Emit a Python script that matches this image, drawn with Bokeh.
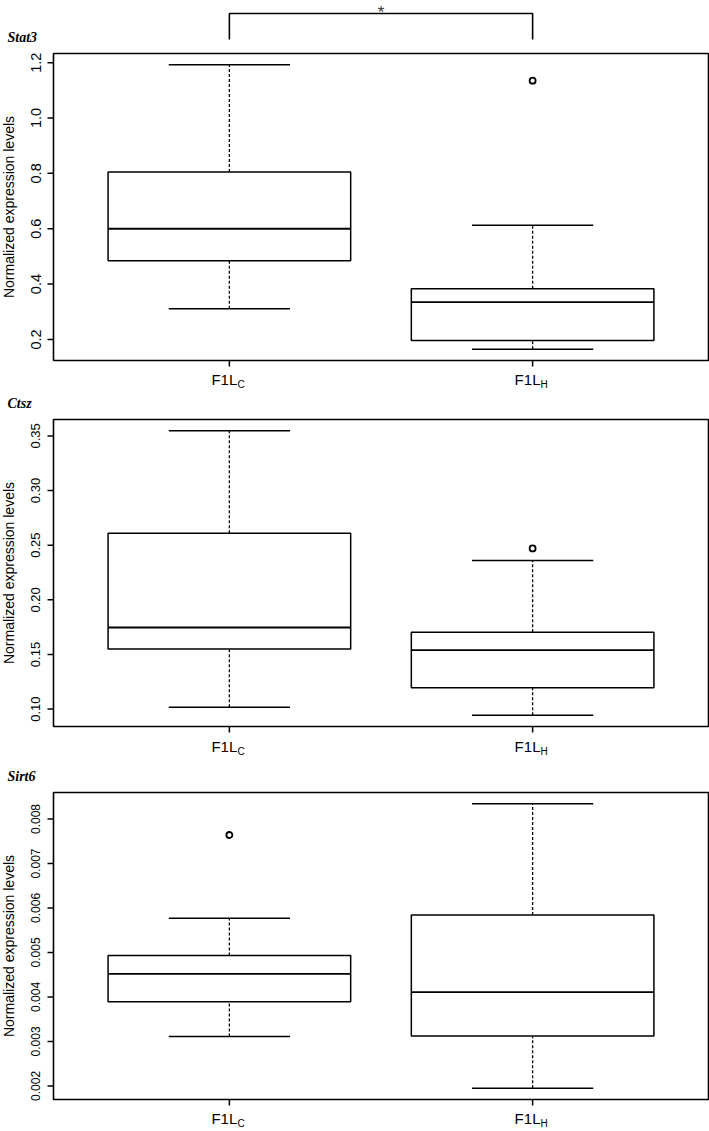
import math
from bokeh.plotting import figure
from bokeh.models import ColumnDataSource, Range1d
from bokeh.layouts import column
from bokeh.embed import file_html
from bokeh.resources import INLINE
from bokeh.core.properties import value

# ---------------- data ----------------
genes = ["Stat3", "Ctsz", "Sirt6"]
group_main = ["F1L", "F1L"]
group_sub = ["C", "H"]
group_pos = [1, 2]

stat3_lower = [0.311, 0.165]
stat3_q1 = [0.484, 0.196]
stat3_median = [0.600, 0.335]
stat3_q3 = [0.805, 0.383]
stat3_upper = [1.192, 0.613]
stat3_out_group = [2]
stat3_out_value = [1.135]
stat3_ticks = [0.2, 0.4, 0.6, 0.8, 1.0, 1.2]
stat3_tick_labels = ["0.2", "0.4", "0.6", "0.8", "1.0", "1.2"]

ctsz_lower = [0.1017, 0.0945]
ctsz_q1 = [0.155, 0.1195]
ctsz_median = [0.1747, 0.154]
ctsz_q3 = [0.261, 0.1704]
ctsz_upper = [0.3546, 0.236]
ctsz_out_group = [2]
ctsz_out_value = [0.247]
ctsz_ticks = [0.10, 0.15, 0.20, 0.25, 0.30, 0.35]
ctsz_tick_labels = ["0.10", "0.15", "0.20", "0.25", "0.30", "0.35"]

sirt6_lower = [0.00311, 0.00195]
sirt6_q1 = [0.00389, 0.00312]
sirt6_median = [0.00452, 0.00411]
sirt6_q3 = [0.00493, 0.00584]
sirt6_upper = [0.00577, 0.00834]
sirt6_out_group = [1]
sirt6_out_value = [0.00764]
sirt6_ticks = [0.002, 0.003, 0.004, 0.005, 0.006, 0.007, 0.008]
sirt6_tick_labels = ["0.002", "0.003", "0.004", "0.005", "0.006", "0.007", "0.008"]

signif_pair = [1, 2]
signif_text = "*"

ylabel = "Normalized expression levels"

# ---------------- styling / layout ----------------
FIG_W = 709
BOX_L, BOX_R = 53, 1          # px left / right of the plotting box
BOX_H = 307
BOX_W, CAP_W = 0.8, 0.4
SANS = "Liberation Sans"
SERIF = "Liberation Serif"
TF = 5                        # baseline correction (px)


def make_panel(gene, lower, q1, med, q3, upper, out_g, out_v, ticks, tick_labels,
               tick_font, top, bottom, xlab_dy, bracket=False):
    n = len(group_pos)
    x0, x1 = 0.5 - 0.04 * n, n + 0.5 + 0.04 * n
    lo = min(lower + out_v)
    hi = max(upper + out_v)
    pad = (hi - lo) * 0.04
    y0, y1 = lo - pad, hi + pad

    box_w_px = FIG_W - BOX_L - BOX_R
    dx = (x1 - x0) / box_w_px           # data units per px (x)
    dy = (y1 - y0) / BOX_H              # data units per px (y)
    H = top + BOX_H + bottom

    p = figure(width=FIG_W, height=H,
               x_range=Range1d(x0 - BOX_L * dx, x1 + BOX_R * dx),
               y_range=Range1d(y0 - bottom * dy, y1 + top * dy),
               output_backend="svg", toolbar_location=None,
               x_axis_location=None, y_axis_location=None,
               min_border=0, background_fill_color="white",
               border_fill_color="white")
    p.outline_line_color = None
    p.xgrid.visible = False
    p.ygrid.visible = False

    # plotting box
    p.quad(left=[x0], right=[x1], bottom=[y0], top=[y1], fill_color=None,
           line_color="black", line_width=1.6)

    # y ticks + labels
    p.segment(x0=[x0 - 6 * dx] * len(ticks), y0=ticks, x1=[x0] * len(ticks), y1=ticks,
              line_color="black", line_width=1.5)
    p.text(x=[x0 - (13 + TF) * dx] * len(ticks), y=ticks, text=tick_labels,
           angle=math.pi / 2, text_align="center", text_baseline="alphabetic",
           text_font=value(SANS), text_font_size=tick_font, text_color="black")

    # x ticks + labels with subscripts
    p.segment(x0=group_pos, y0=[y0] * n, x1=group_pos, y1=[y0 - 6 * dy] * n,
              line_color="black", line_width=1.5)
    p.text(x=[g - 18 * dx for g in group_pos], y=[y0 - (xlab_dy - TF) * dy] * n,
           text=group_main, text_align="left", text_baseline="alphabetic",
           text_font=value(SANS), text_font_size="15px", text_color="black")
    p.text(x=[g + 8 * dx for g in group_pos], y=[y0 - (xlab_dy + 4.5 - TF) * dy] * n,
           text=group_sub, text_align="left", text_baseline="alphabetic",
           text_font=value(SANS), text_font_size="10px", text_color="black")

    src = ColumnDataSource(dict(
        x=group_pos,
        left=[g - BOX_W / 2 for g in group_pos],
        right=[g + BOX_W / 2 for g in group_pos],
        cl=[g - CAP_W / 2 for g in group_pos],
        cr=[g + CAP_W / 2 for g in group_pos],
        lower=lower, q1=q1, med=med, q3=q3, upper=upper))

    # whiskers (dashed)
    p.segment(x0="x", y0="q3", x1="x", y1="upper", source=src,
              line_color="black", line_width=1.3, line_dash="3 2")
    p.segment(x0="x", y0="lower", x1="x", y1="q1", source=src,
              line_color="black", line_width=1.3, line_dash="3 2")
    # caps
    p.segment(x0="cl", y0="upper", x1="cr", y1="upper", source=src,
              line_color="black", line_width=1.5)
    p.segment(x0="cl", y0="lower", x1="cr", y1="lower", source=src,
              line_color="black", line_width=1.5)
    # boxes
    p.quad(left="left", right="right", bottom="q1", top="q3", source=src,
           fill_color="white", line_color="black", line_width=1.5)
    # medians
    p.segment(x0="left", y0="med", x1="right", y1="med", source=src,
              line_color="black", line_width=1.8)
    # outliers
    p.scatter(x=out_g, y=out_v, marker="circle", size=6,
              fill_color="white", line_color="black", line_width=1.8)

    # y axis title
    p.text(x=[x0 - (40 + TF) * dx], y=[(y0 + y1) / 2], text=[ylabel], angle=math.pi / 2,
           text_align="center", text_baseline="alphabetic",
           text_font=value(SANS), text_font_size="14px", text_color="black")

    # gene title
    p.text(x=[x0 - 46 * dx], y=[y1 + (11 + TF) * dy], text=[gene],
           text_align="left", text_baseline="alphabetic",
           text_font=value(SERIF), text_font_style="bold italic",
           text_font_size="14px", text_color="black")

    if bracket:
        a, b = signif_pair
        yb = y1 + 14 * dy
        yt = y1 + 40 * dy
        p.line(x=[a, a, b, b], y=[yb, yt, yt, yb], line_color="black", line_width=1.6)
        p.text(x=[(a + b) / 2], y=[y1 + (35.7 + TF) * dy], text=[signif_text],
               text_align="center", text_baseline="alphabetic",
               text_font=value(SANS), text_font_size="17px", text_color="#333333")
    return p


p1 = make_panel(genes[0], stat3_lower, stat3_q1, stat3_median, stat3_q3, stat3_upper,
                stat3_out_group, stat3_out_value, stat3_ticks, stat3_tick_labels,
                "14.5px", 53, 31, 24, bracket=True)
p2 = make_panel(genes[1], ctsz_lower, ctsz_q1, ctsz_median, ctsz_q3, ctsz_upper,
                ctsz_out_group, ctsz_out_value, ctsz_ticks, ctsz_tick_labels,
                "13px", 28, 34, 25)
p3 = make_panel(genes[2], sirt6_lower, sirt6_q1, sirt6_median, sirt6_q3, sirt6_upper,
                sirt6_out_group, sirt6_out_value, sirt6_ticks, sirt6_tick_labels,
                "12px", 32, 32, 24)

layout = column(p1, p2, p3, spacing=0)
open("out.html", "w").write(file_html(layout, INLINE))
